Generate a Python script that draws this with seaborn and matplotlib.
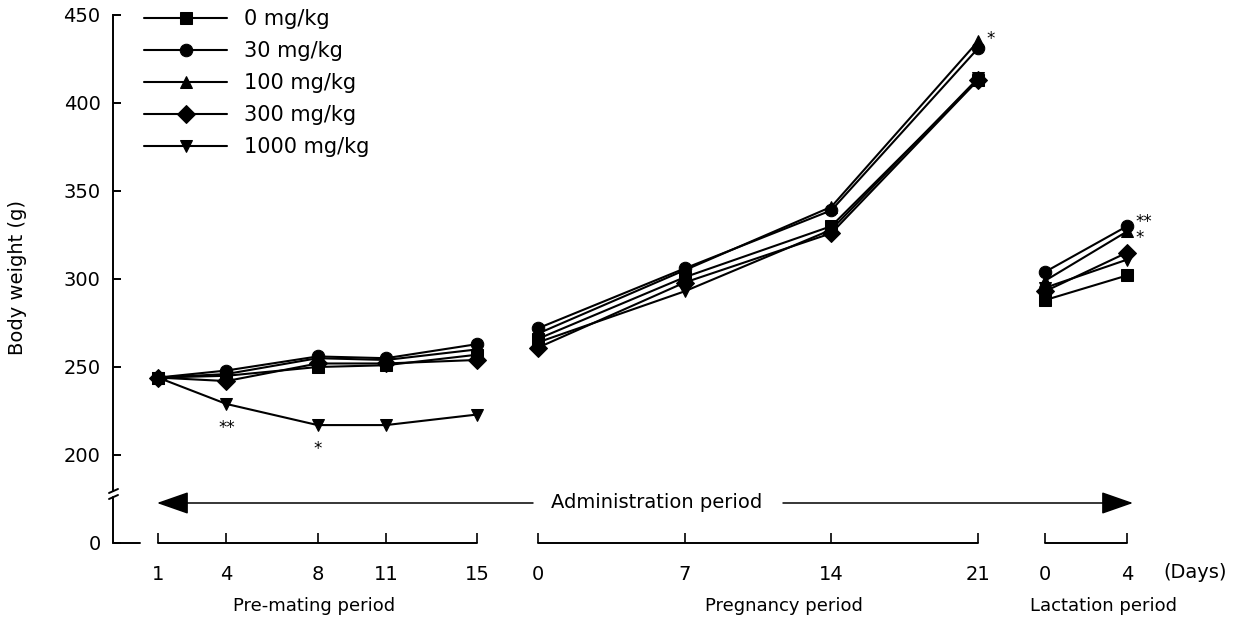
import numpy as np
import pandas as pd
import matplotlib
matplotlib.use("Agg")
import matplotlib.pyplot as plt
import seaborn as sns

# ---------------- data ----------------
doses = ["0 mg/kg", "30 mg/kg", "100 mg/kg", "300 mg/kg", "1000 mg/kg"]
premating_days = [1, 4, 8, 11, 15]
pregnancy_days = [0, 7, 14, 21]
lactation_days = [0, 4]

# body weight (g) per dose: pre-mating (5) + pregnancy (4) + lactation (2)
w_0 = [244, 245, 250, 251, 257, 266, 301, 330, 413, 288, 302]
w_30 = [244, 248, 256, 255, 263, 272, 306, 339, 431, 304, 330]
w_100 = [244, 246, 255, 254, 260, 269, 305, 341, 435, 299, 327]
w_300 = [244, 242, 252, 252, 254, 261, 298, 326, 413, 293, 315]
w_1000 = [244, 229, 217, 217, 223, 264, 293, 328, 414, 295, 311]
weights = [w_0, w_30, w_100, w_300, w_1000]

periods = ["Pre-mating period", "Pregnancy period", "Lactation period"]
# significance marks: (dose index, point index, text)
sig_marks = [(4, 1, "**"), (4, 2, "*"), (2, 8, "*"), (1, 10, "**"), (2, 10, "*")]

# ---------------- layout (figure pixel space on x) ----------------
W, H = 1235, 624
period_start = {"Pre-mating period": 158 - 22.8, "Pregnancy period": 538, "Lactation period": 1045}
period_scale = {"Pre-mating period": 22.8, "Pregnancy period": 20.95, "Lactation period": 20.5}
period_days = {"Pre-mating period": premating_days, "Pregnancy period": pregnancy_days,
               "Lactation period": lactation_days}


def xpos(period, day):
    return period_start[period] + period_scale[period] * day


# y mapping: 450 g at 15 px, 200 g at 455 px
PXG = 1.76


def y_of_px(py):
    return 200 + (455 - py) / PXG


rows = []
for dose, wl in zip(doses, weights):
    i = 0
    for p in periods:
        for d in period_days[p]:
            rows.append({"dose": dose, "period": p, "day": d, "x": xpos(p, d), "weight": wl[i]})
            i += 1
df = pd.DataFrame(rows)

# ---------------- figure ----------------
sns.set_style("white")
plt.rcParams["font.family"] = ["DejaVu Sans"]
plt.rcParams["text.color"] = "black"
plt.rcParams["xtick.color"] = "black"
plt.rcParams["ytick.color"] = "black"
fig = plt.figure(figsize=(W / 100, H / 100), dpi=100)
ax = fig.add_axes([0, 0, 1, 1])
ax.set_facecolor("white")
ax.set_xlim(0, W)
ax.set_ylim(y_of_px(H), y_of_px(0))

markers = {"0 mg/kg": "s", "30 mg/kg": "o", "100 mg/kg": "^", "300 mg/kg": "D", "1000 mg/kg": "v"}
palette = {d: "black" for d in doses}
sns.lineplot(data=df, x="x", y="weight", hue="dose", style="dose", units="period",
             estimator=None, hue_order=doses[::-1], style_order=doses[::-1],
             palette=palette, markers=markers, dashes=False, markersize=9,
             linewidth=1.5, markeredgecolor="black", ax=ax, legend=True)

# legend
handles, labels = ax.get_legend_handles_labels()
order = [labels.index(d) for d in doses]
ax.legend([handles[i] for i in order], [labels[i] for i in order],
          loc="upper left", bbox_to_anchor=(144 / W, 1 - 9 / H), frameon=False,
          borderaxespad=0, borderpad=0, handlelength=4.0, handletextpad=0.8,
          labelspacing=0.58, fontsize=15, numpoints=1, labelcolor="black")

# significance asterisks
for di, pi, txt in sig_marks:
    r = df[df.dose == doses[di]].iloc[pi]
    if pi in (1, 2):
        ax.annotate(txt, (r.x, r.weight), xytext=(0, -11), textcoords="offset points",
                    ha="center", va="top", fontsize=12)
    elif di == 1:
        ax.annotate(txt, (r.x, r.weight), xytext=(6, 3), textcoords="offset points",
                    ha="left", va="center", fontsize=12)
    elif pi == 10:
        ax.annotate(txt, (r.x, r.weight), xytext=(6, -5), textcoords="offset points",
                    ha="left", va="center", fontsize=12)
    else:
        ax.annotate(txt, (r.x, r.weight), xytext=(6, 2), textcoords="offset points",
                    ha="left", va="center", fontsize=12)

# ---------------- y axis (broken) ----------------
for s in ["top", "right", "bottom"]:
    ax.spines[s].set_visible(False)
ax.spines["left"].set_position(("data", 113))
ax.spines["left"].set_bounds(y_of_px(491), 450)
ax.spines["left"].set_linewidth(1.4)
ax.spines["left"].set_color("black")
ax.set_yticks([y_of_px(543), 200, 250, 300, 350, 400, 450])
ax.set_yticklabels(["0", "200", "250", "300", "350", "400", "450"])
ax.tick_params(axis="y", left=True, direction="in", length=6, width=1.4, pad=9, labelsize=14)
ax.set_ylabel("")
ax.plot([113, 113], [y_of_px(497), y_of_px(543)], color="black", lw=1.4, clip_on=False)
ax.plot([113, 140], [y_of_px(543), y_of_px(543)], color="black", lw=1.4, clip_on=False)
for py in (491, 497):
    ax.plot([109, 118], [y_of_px(py + 2), y_of_px(py - 2)], color="black", lw=1.4)
ax.text(18, y_of_px(278), "Body weight (g)", rotation=90, ha="center", va="center", fontsize=14)

# ---------------- x axis: period brackets ----------------
y0 = y_of_px(543)
ax.spines["bottom"].set_position(("data", y0))
ticks, tlabels = [], []
for p in periods:
    for d in period_days[p]:
        ticks.append(xpos(p, d))
        tlabels.append(str(d))
    ax.plot([xpos(p, period_days[p][0]), xpos(p, period_days[p][-1])], [y0, y0],
            color="black", lw=1.4)
ax.set_xticks(ticks)
ax.set_xticklabels(tlabels)
ax.tick_params(axis="x", bottom=True, direction="in", length=7, width=1.2, pad=16, labelsize=14)
ax.set_xlabel("")
ax.text(1163, y_of_px(573), "(Days)", ha="left", va="center", fontsize=14)
label_x = {"Pre-mating period": 314, "Pregnancy period": 784, "Lactation period": 1103}
for p in periods:
    ax.text(label_x[p], y_of_px(606), p, ha="center", va="center", fontsize=13)

# administration period arrow
ya = y_of_px(503)
arrow_kw = dict(arrowstyle="-|>,head_length=1.0,head_width=0.35", color="black",
                lw=1.1, mutation_scale=20, shrinkA=0, shrinkB=0)
ax.annotate("", xy=(157, ya), xytext=(533, ya), arrowprops=arrow_kw)
ax.annotate("", xy=(1133, ya), xytext=(783, ya), arrowprops=arrow_kw)
ax.text(657, ya, "Administration period", ha="center", va="center", fontsize=14)

fig.savefig("out.png", dpi=100, facecolor="white")
